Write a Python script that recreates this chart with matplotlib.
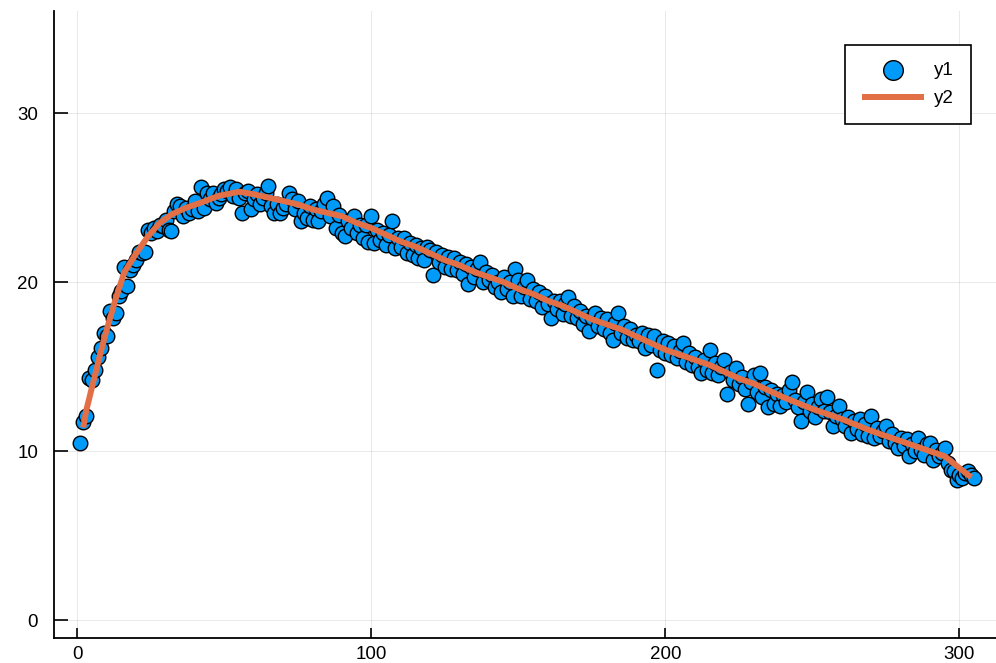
import numpy as np
import matplotlib
matplotlib.use("Agg")
import matplotlib.pyplot as plt

plt.rcParams['font.family'] = ['Liberation Sans', 'DejaVu Sans']

# ---- data ----
y1 = [
    10.5, 11.7, 12.1, 14.3, 14.2, 14.8, 15.6, 16.1, 17.0, 16.8,
    18.3, 17.9, 18.2, 19.2, 19.5, 20.9, 19.8, 20.7, 21.0, 21.3,
    21.8, 21.7, 21.8, 23.1, 22.9, 23.2, 23.0, 23.4, 23.3, 23.7,
    23.1, 23.0, 24.2, 24.6, 24.5, 23.9, 24.4, 24.1, 24.3, 24.8,
    24.2, 25.6, 24.4, 25.3, 24.9, 25.3, 24.7, 25.0, 25.2, 25.5,
    25.4, 25.6, 25.1, 25.5, 25.0, 24.1, 25.3, 25.4, 24.3, 24.9,
    25.2, 24.6, 25.0, 25.3, 25.7, 24.5, 24.1, 24.6, 24.1, 24.4,
    24.6, 25.3, 24.9, 24.3, 24.8, 23.6, 24.1, 23.8, 24.5, 23.7,
    24.3, 23.6, 24.2, 24.6, 25.0, 23.9, 24.5, 23.2, 24.0, 22.9,
    22.7, 23.6, 23.2, 23.9, 22.9, 23.4, 22.6, 23.4, 22.4, 23.9,
    22.3, 23.1, 22.5, 22.9, 22.2, 22.8, 23.6, 22.0, 22.6, 22.1,
    22.6, 21.7, 22.3, 21.6, 22.2, 21.4, 22.0, 21.3, 22.1, 21.9,
    20.4, 21.8, 21.2, 21.6, 20.9, 21.5, 20.8, 21.4, 20.7, 21.2,
    20.5, 21.1, 19.9, 20.9, 20.3, 20.8, 21.2, 20.0, 20.6, 20.1,
    20.4, 19.7, 20.0, 19.4, 20.3, 19.6, 20.0, 19.2, 20.8, 20.1,
    19.2, 19.7, 20.1, 19.0, 19.6, 18.9, 19.4, 18.5, 19.2, 18.7,
    17.9, 18.9, 18.4, 18.9, 18.1, 18.7, 19.1, 18.0, 18.6, 17.9,
    18.3, 17.5, 18.0, 17.1, 17.9, 18.2, 17.4, 17.9, 17.2, 17.8,
    17.0, 16.6, 17.6, 18.2, 17.0, 17.4, 16.7, 17.2, 16.6, 16.9,
    16.5, 17.0, 16.1, 16.9, 16.3, 16.8, 14.8, 16.0, 16.5, 15.8,
    16.4, 15.7, 16.2, 15.5, 15.9, 16.4, 15.3, 15.8, 15.1, 15.6,
    15.0, 14.6, 15.4, 14.8, 16.0, 14.6, 15.2, 14.5, 15.0, 15.4,
    13.4, 14.7, 14.2, 14.9, 14.0, 14.4, 13.7, 12.8, 14.1, 14.5,
    13.5, 14.6, 13.2, 13.8, 12.6, 13.6, 12.8, 13.4, 12.7, 13.3,
    12.9, 13.6, 14.1, 13.0, 12.6, 11.8, 12.9, 13.5, 12.4, 12.8,
    12.0, 12.6, 13.1, 12.4, 13.2, 12.3, 11.5, 12.1, 12.7, 11.9,
    11.5, 12.0, 11.1, 11.8, 11.3, 11.9, 11.0, 11.6, 10.9, 12.1,
    10.8, 11.4, 10.9, 11.2, 11.5, 10.6, 11.0, 10.5, 10.2, 10.8,
    10.3, 10.7, 9.7, 10.4, 10.0, 10.8, 10.1, 9.8, 10.4, 10.5,
    9.5, 10.1, 9.7, 9.9, 10.2, 9.3, 8.9, 8.8, 8.3, 8.6,
    8.4, 8.7, 8.8, 8.6, 8.4,
]
x1 = list(range(1, len(y1) + 1))

x2 = [2, 3, 5, 8, 10, 13, 16, 20, 24, 28, 32, 37, 42, 48, 55,
      60, 65, 70, 75, 80, 85, 90, 95, 100, 105, 110, 115, 120, 125, 130,
      135, 140, 145, 150, 155, 160, 165, 170, 175, 180, 185, 190, 195, 200,
      205, 210, 215, 220, 225, 230, 235, 240, 245, 250, 255, 260, 265, 270,
      275, 280, 285, 290, 295, 300, 304]
y2 = [11.4, 12.4, 13.8, 15.9, 17.2, 19.0, 20.6, 21.7, 22.7, 23.5, 24.0, 24.4, 24.7, 25.1, 25.35,
      25.2, 25.0, 24.8, 24.6, 24.3, 24.1, 23.9, 23.5, 23.2, 22.8, 22.4, 22.1, 21.7, 21.3, 21.0,
      20.6, 20.3, 20.0, 19.6, 19.3, 18.9, 18.6, 18.2, 17.8, 17.5, 17.2, 16.8, 16.4, 16.0,
      15.7, 15.4, 15.1, 14.7, 14.3, 14.0, 13.6, 13.2, 12.85, 12.5, 12.2, 11.9, 11.55, 11.2,
      10.9, 10.6, 10.3, 10.0, 9.7, 9.0, 8.45]

xticks = [0, 100, 200, 300]
yticks = [0, 10, 20, 30]

# ---- figure ----
W, H = 996, 663
fig = plt.figure(figsize=(W / 100, H / 100), dpi=100)
left, right, top, bottom = 53.5, 1001, 10.8, 638
ax = fig.add_axes([left / W, (H - bottom) / H, (right - left) / W, (bottom - top) / H])

ax.scatter(x1, y1, s=110, color='#009af9', edgecolors='black', linewidths=1.0,
           zorder=3, label='y1')
ax.plot(x2, y2, color='#e26f46', lw=4.3, zorder=4, label='y2', solid_capstyle='butt')

ax.set_xlim(-8.12, 314.12)
ax.set_ylim(-1.05, 36.05)
ax.set_xticks(xticks)
ax.set_yticks(yticks)
ax.grid(True, color='black', alpha=0.1, lw=0.6)
ax.set_axisbelow(True)

for s in ['top', 'right']:
    ax.spines[s].set_visible(False)
for s in ['left', 'bottom']:
    ax.spines[s].set_linewidth(1.3)
    ax.spines[s].set_color('black')

ax.tick_params(axis='x', direction='in', length=7, width=1.2, pad=6, labelsize=13.5)
ax.tick_params(axis='y', direction='in', length=10, width=1.2, pad=11, labelsize=13.5)

leg = ax.legend(loc='upper right', bbox_to_anchor=(971 / W, (H - 45) / H),
                bbox_transform=fig.transFigure, fontsize=13.5, frameon=True,
                fancybox=False, framealpha=1, edgecolor='black', borderpad=0.9,
                handlelength=3.3, handletextpad=0.55, labelspacing=0.6,
                scatterpoints=1, markerscale=1.35, borderaxespad=0)
leg.get_frame().set_linewidth(1.2)

fig.savefig('out.png', dpi=100)
